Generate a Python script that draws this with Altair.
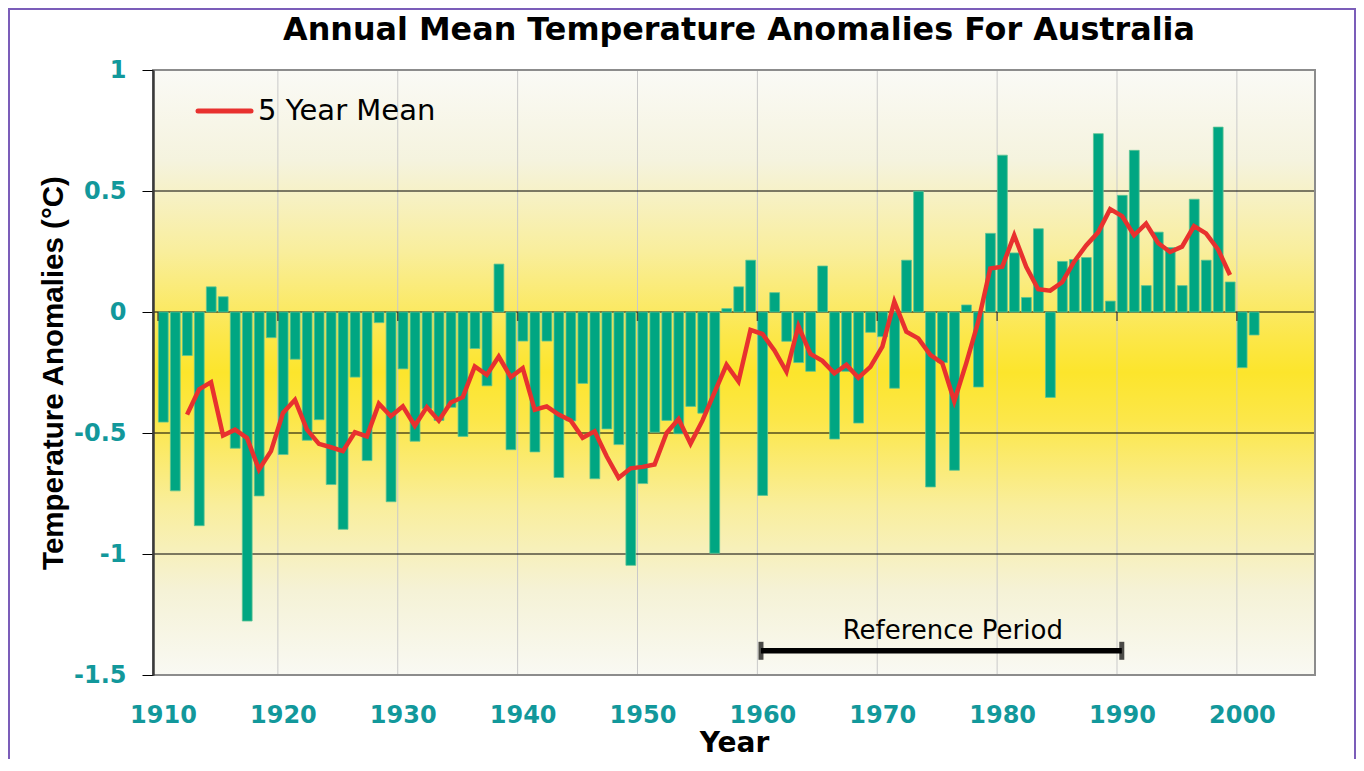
import altair as alt
import pandas as pd

# ---------------- data ----------------
years = list(range(1910, 2002))
anomalies = [
    -0.455, -0.739, -0.18, -0.883, 0.104, 0.063, -0.563, -1.277, -0.76, -0.106,
    -0.589, -0.195, -0.53, -0.445, -0.713, -0.898, -0.269, -0.614, -0.044, -0.784,
    -0.235, -0.534, -0.40, -0.448, -0.394, -0.514, -0.151, -0.305, 0.198, -0.569,
    -0.12, -0.578, -0.12, -0.684, -0.45, -0.295, -0.689, -0.483, -0.548, -1.047,
    -0.709, -0.497, -0.448, -0.503, -0.39, -0.418, -0.997, 0.014, 0.104, 0.214,
    -0.758, 0.08, -0.121, -0.209, -0.245, 0.19, -0.525, -0.245, -0.459, -0.084,
    -0.102, -0.315, 0.214, 0.499, -0.723, -0.209, -0.654, 0.029, -0.31, 0.325,
    0.648, 0.244, 0.06, 0.344, -0.353, 0.209, 0.217, 0.225, 0.737, 0.045,
    0.482, 0.668, 0.109, 0.33, 0.266, 0.109, 0.466, 0.214, 0.764, 0.124,
    -0.23, -0.095,
]
mean_years = list(range(1912, 2000))
mean_values = [
    -0.424, -0.32, -0.29, -0.51, -0.486, -0.52, -0.651, -0.575,
    -0.417, -0.363, -0.486, -0.545, -0.559, -0.575, -0.497, -0.514, -0.379, -0.431,
    -0.39, -0.47, -0.393, -0.449, -0.374, -0.352, -0.225, -0.26, -0.184, -0.269,
    -0.232, -0.404, -0.39, -0.424, -0.448, -0.52, -0.493, -0.596, -0.685, -0.646,
    -0.64, -0.63, -0.5, -0.442, -0.544, -0.448, -0.332, -0.218, -0.287, -0.074,
    -0.091, -0.159, -0.246, -0.058, -0.173, -0.202, -0.253, -0.218, -0.272, -0.227,
    -0.143, 0.043, -0.081, -0.109, -0.177, -0.211, -0.369, -0.211, -0.04, 0.18,
    0.187, 0.317, 0.187, 0.094, 0.088, 0.123, 0.208, 0.275, 0.329, 0.425,
    0.396, 0.317, 0.365, 0.285, 0.248, 0.27, 0.355, 0.325, 0.259, 0.153,
]
decades = list(range(1910, 2001, 10))
y_ticks = [-1.5, -1, -0.5, 0, 0.5, 1]
h_lines = [-1, -0.5, 0, 0.5]
ref_period = [1960.3, 1990.4]
ref_level = -1.40
ref_label = "Reference Period"
ref_label_x = 1976.3
ref_label_y = -1.32
legend_label = "5 Year Mean"
title_text = "Annual Mean Temperature Anomalies For Australia"
x_title = "Year"
y_title = "Temperature Anomalies (°C)"

# ---------------- styling ----------------
W, H = 1162, 605
TEAL = "#12989B"
RED = "#E8312F"
BAR = "#00A682"

bars_df = pd.DataFrame({"year": years, "anomaly": anomalies})
mean_df = pd.DataFrame({"year": mean_years, "anomaly": mean_values})
dec_df = pd.DataFrame({"year": decades, "anomaly": [0] * len(decades)})
grid_df = pd.DataFrame({"year": decades[1:]})
hl_df = pd.DataFrame({"anomaly": h_lines})
ref_df = pd.DataFrame({"year": [ref_period[0]], "end": [ref_period[1]], "anomaly": [ref_level]})
cap_df = pd.DataFrame({"year": ref_period, "anomaly": [ref_level] * 2})
reflab_df = pd.DataFrame({"year": [ref_label_x], "anomaly": [ref_label_y], "t": [ref_label]})
one = pd.DataFrame({"k": [0]})

xscale = alt.Scale(domain=[1910, 2006.1], nice=False, zero=False)
yscale = alt.Scale(domain=[-1.5, 1], nice=False, zero=False)

x_axis = alt.Axis(
    values=decades, format="d", title=x_title, grid=False, ticks=False, domain=False,
    labelFont="DejaVu Sans", labelFontWeight="bold", labelFontSize=24, labelColor=TEAL,
    labelOffset=5, labelPadding=28, labelFlush=False, labelOverlap=False,
    titleFont="DejaVu Sans", titleFontWeight="bold", titleFontSize=28, titleColor="black",
    titleX=W / 2, titleY=76, titleBaseline="alphabetic", titleAlign="center", zindex=1,
)
y_axis = alt.Axis(
    values=y_ticks, labelExpr="'' + datum.value", title=y_title, grid=False,
    domain=True, domainColor="#3A3A3A", domainWidth=2.5,
    ticks=True, tickColor="black", tickSize=11, tickWidth=1,
    labelFont="DejaVu Sans", labelFontWeight="bold", labelFontSize=24, labelColor=TEAL,
    labelPadding=16, labelFlush=False, labelOverlap=False,
    titleFont="Liberation Sans", titleFontWeight="bold",
    titleFontSize=29.5, titleColor="black", titleAngle=270, titleX=-100, titleY=H / 2,
    titleAlign="center", titleBaseline="middle", zindex=1,
)

X = alt.X("year:Q", scale=xscale, axis=x_axis)
Y = alt.Y("anomaly:Q", scale=yscale, axis=y_axis)

gradient = alt.LinearGradient(
    gradient="linear",
    stops=[
        alt.GradientStop(color="#FAFAF6", offset=0),
        alt.GradientStop(color="#F5F3DE", offset=0.15),
        alt.GradientStop(color="#F9EE9C", offset=0.3),
        alt.GradientStop(color="#FCE74A", offset=0.44),
        alt.GradientStop(color="#FCE52C", offset=0.5),
        alt.GradientStop(color="#FCE74A", offset=0.58),
        alt.GradientStop(color="#F9EE9C", offset=0.72),
        alt.GradientStop(color="#F5F2D6", offset=0.86),
        alt.GradientStop(color="#F9F9F3", offset=1),
    ],
    x1=0, x2=0, y1=0, y2=1,
)

background = alt.Chart(one).mark_rect(fill=gradient).encode(
    x=alt.value(0), x2=alt.value(W), y=alt.value(0), y2=alt.value(H)
)

vgrid = alt.Chart(grid_df).mark_rule(color="#C9C9C9", strokeWidth=1).encode(x=X)

hgrid = alt.Chart(hl_df).mark_rule(color="black", strokeWidth=1).encode(y=Y)

bars = alt.Chart(bars_df).mark_bar(
    width=9.8, xOffset=5.3, color=BAR, stroke="#5EC493", strokeWidth=0.8
).encode(x=X, y=Y)

zero_ticks = alt.Chart(dec_df).mark_tick(
    orient="vertical", size=9, thickness=1.5, yOffset=4.5, color="#222222"
).encode(x=X, y=Y)

line = alt.Chart(mean_df).mark_line(color=RED, strokeWidth=4.5, xOffset=5.1).encode(x=X, y=Y)

ref_bar = alt.Chart(ref_df).mark_rule(color="black", strokeWidth=5.5).encode(
    x=X, x2="end:Q", y=Y
)
ref_caps = alt.Chart(cap_df).mark_tick(
    orient="vertical", size=18, thickness=5, color="black"
).encode(x=X, y=Y)
ref_text = alt.Chart(reflab_df).mark_text(
    font="DejaVu Sans", fontSize=26, color="black", align="center", baseline="middle"
).encode(x=X, y=Y, text="t:N")

legend_line = alt.Chart(one).mark_rule(color=RED, strokeWidth=5, strokeCap="round").encode(
    x=alt.value(45), x2=alt.value(98), y=alt.value(41)
)
legend_text = alt.Chart(one).mark_text(
    font="DejaVu Sans", fontSize=29, color="black", align="left", baseline="middle"
).encode(x=alt.value(105), y=alt.value(41), text=alt.value(legend_label))

title_mark = alt.Chart(one).mark_text(
    font="DejaVu Sans", fontSize=31.8, fontWeight="bold", color="black",
    align="center", baseline="alphabetic"
).encode(x=alt.value(W / 2 + 5), y=alt.value(-30), text=alt.value(title_text))

plot_border = alt.Chart(one).mark_rect(
    fill="transparent", stroke="#8C8C8C", strokeWidth=2
).encode(x=alt.value(0), x2=alt.value(W), y=alt.value(0), y2=alt.value(H))

outer_border = alt.Chart(one).mark_rect(
    fill="transparent", stroke="#7B5DB9", strokeWidth=2
).encode(x=alt.value(-144), x2=alt.value(1202), y=alt.value(-61), y2=alt.value(720))

chart = alt.layer(
    background, vgrid, hgrid, bars, zero_ticks, line,
    ref_bar, ref_caps, ref_text, legend_line, legend_text, title_mark,
    plot_border, outer_border,
).properties(
    width=W,
    height=H,
    padding={"left": 145, "top": 62, "right": 41, "bottom": 84},
    autosize=alt.AutoSizeParams(type="none"),
    background="white",
).configure_view(stroke=None)

chart.save("out.html", embed_options={"renderer": "svg", "actions": False})
